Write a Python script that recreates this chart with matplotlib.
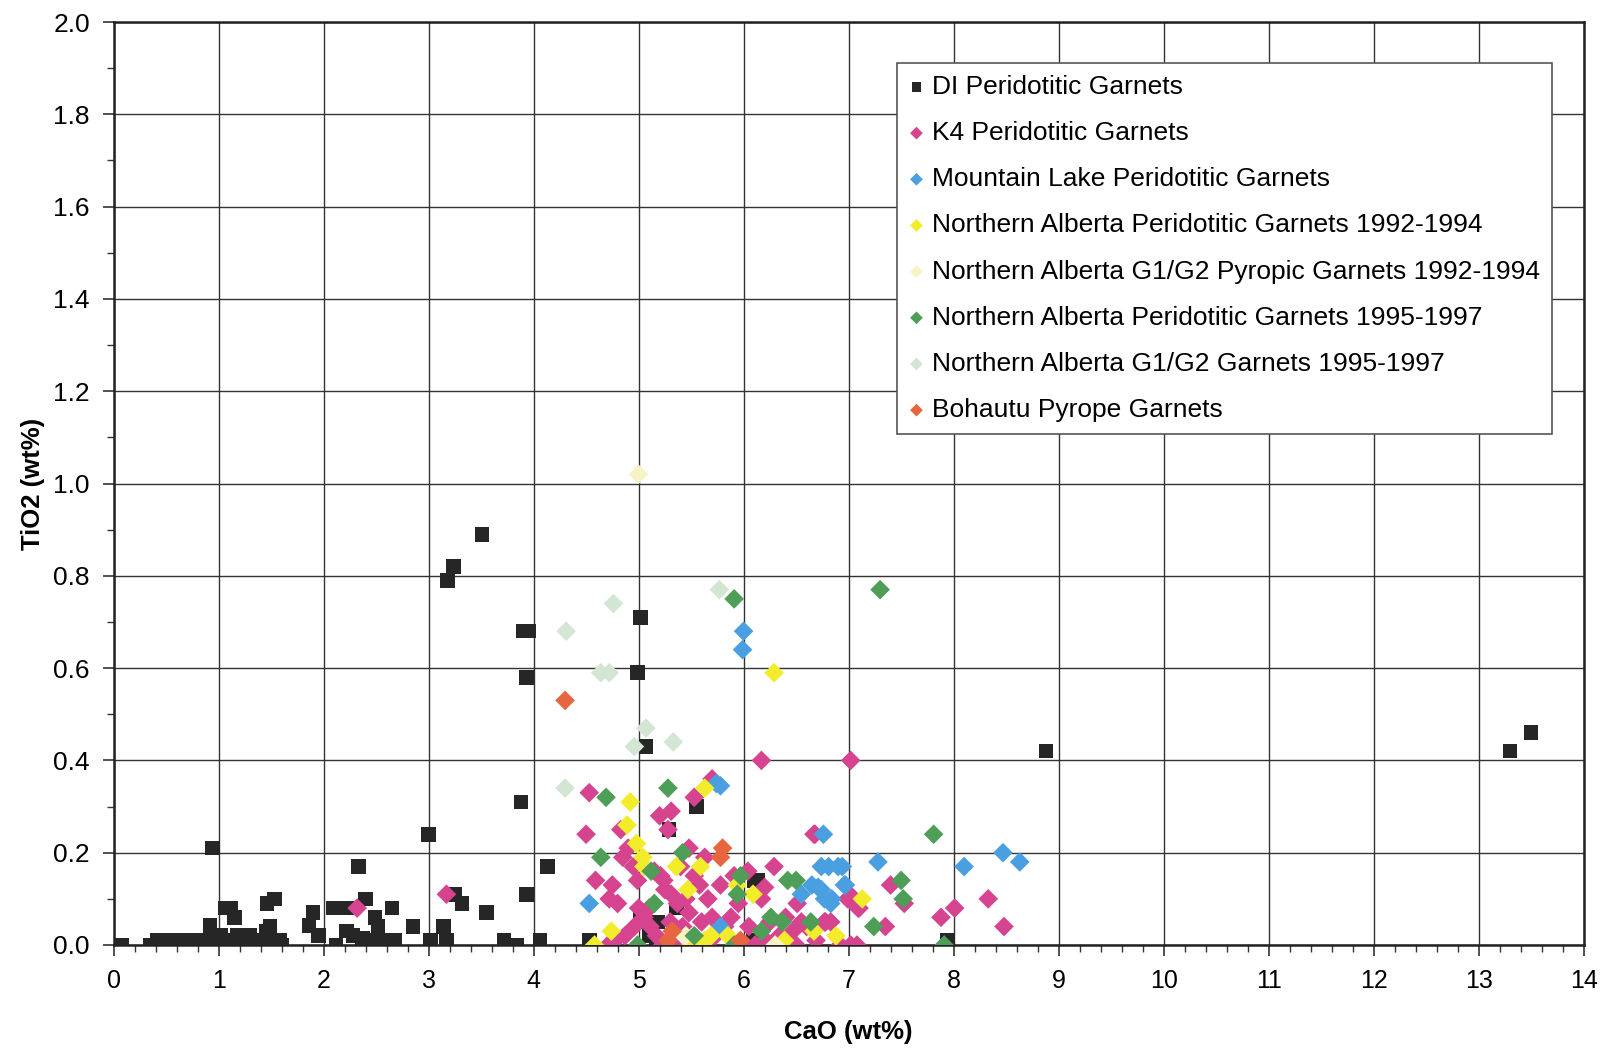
import matplotlib
matplotlib.use("Agg")
import matplotlib.pyplot as plt
from matplotlib.ticker import MultipleLocator, FormatStrFormatter

plt.rcParams['font.family'] = ['Liberation Sans', 'DejaVu Sans']

# DI Peridotitic Garnets (black squares)
di_x = [0.08, 0.35, 0.42, 0.48, 0.55, 0.60, 0.66, 0.72, 0.78, 0.84, 0.90, 0.92, 0.97, 1.02, 1.08,
        1.12, 1.18, 1.24, 1.30, 1.36, 1.42, 1.48, 1.55, 1.60,
        0.94, 0.92, 1.06, 1.12, 1.15, 1.46, 1.53, 1.49, 1.45, 1.58,
        1.86, 1.90, 1.95, 2.09, 2.12, 2.22, 2.22, 2.33, 2.40, 2.37, 2.28, 2.49, 2.52, 2.51, 2.65,
        2.60, 2.68, 2.85, 3.00, 3.02, 3.14, 3.17, 3.25, 3.32, 3.55, 3.72, 3.84, 3.88, 3.93, 4.06, 4.13,
        3.51, 3.24, 3.18, 3.90, 3.95, 3.93, 5.02, 4.99, 5.07,
        5.55, 5.29, 6.10, 6.13, 5.02, 5.05, 5.36, 5.18, 4.53, 7.94, 6.09, 5.17, 5.10,
        8.88, 13.30, 13.50]
di_y = [0.00, 0.00, 0.01, 0.00, 0.01, 0.00, 0.01, 0.01, 0.00, 0.01, 0.00, 0.02, 0.00, 0.02, 0.01,
        0.00, 0.02, 0.01, 0.02, 0.01, 0.00, 0.02, 0.01, 0.00,
        0.21, 0.042, 0.08, 0.08, 0.06, 0.09, 0.10, 0.04, 0.03, 0.01,
        0.042, 0.07, 0.02, 0.08, 0.00, 0.08, 0.03, 0.17, 0.10, 0.015, 0.02, 0.06, 0.04, 0.01, 0.08,
        0.01, 0.01, 0.04, 0.24, 0.01, 0.04, 0.01, 0.11, 0.09, 0.07, 0.01, 0.00, 0.31, 0.11, 0.01, 0.17,
        0.89, 0.82, 0.79, 0.68, 0.68, 0.58, 0.71, 0.59, 0.43,
        0.30, 0.25, 0.14, 0.14, 0.06, 0.05, 0.08, 0.05, 0.01, 0.01, 0.01, 0.00, 0.02,
        0.42, 0.42, 0.46]

# K4 Peridotitic Garnets
k4_x = [2.32, 3.17, 6.17, 7.02, 4.53, 4.50, 5.53, 5.70, 5.20, 5.31, 5.28, 6.67, 4.59, 4.75, 4.72,
        4.83, 4.85, 4.90, 4.99, 5.24, 5.21, 5.48, 5.31, 5.66, 5.78, 5.53, 5.63, 5.91, 6.04, 6.29,
        6.20, 6.17, 6.51, 6.77, 6.83, 6.99, 7.09, 7.40, 7.53, 7.88, 8.01, 8.33, 8.48, 7.03, 7.10,
        7.35, 6.68,
        4.71, 4.78, 4.87, 4.96, 5.05, 5.11, 5.17, 5.23, 5.33, 5.42, 5.48, 5.54, 5.63, 5.73, 5.82,
        5.92, 6.02, 6.11, 6.21, 6.34, 6.47, 6.50, 6.60, 6.69, 6.78, 6.92, 7.02, 7.08, 5.00, 5.10,
        5.30, 5.37, 5.45, 5.60, 5.70, 5.88, 5.95, 6.05, 6.25, 6.40, 6.55, 5.25, 5.15, 4.95, 4.80,
        5.40, 5.58]
k4_y = [0.08, 0.11, 0.40, 0.40, 0.33, 0.24, 0.32, 0.36, 0.28, 0.29, 0.25, 0.24, 0.14, 0.13, 0.10,
        0.25, 0.19, 0.21, 0.14, 0.14, 0.15, 0.21, 0.11, 0.10, 0.13, 0.15, 0.19, 0.15, 0.16, 0.17,
        0.125, 0.10, 0.09, 0.05, 0.05, 0.10, 0.08, 0.13, 0.09, 0.06, 0.08, 0.10, 0.04, 0.105, 0.08,
        0.04, 0.24,
        0.00, 0.01, 0.02, 0.04, 0.06, 0.04, 0.02, 0.00, 0.00, 0.04, 0.07, 0.00, 0.00, 0.02, 0.04,
        0.00, 0.00, 0.00, 0.01, 0.02, 0.03, 0.00, 0.04, 0.01, 0.05, 0.00, 0.00, 0.00, 0.08, 0.08,
        0.05, 0.09, 0.10, 0.05, 0.06, 0.06, 0.09, 0.04, 0.05, 0.06, 0.05, 0.12, 0.16, 0.17, 0.09,
        0.17, 0.13]

# Mountain Lake Peridotitic Garnets
ml_x = [6.00, 5.99, 5.78, 5.74, 4.53, 6.55, 6.74, 6.90, 6.71, 6.77, 6.83, 6.96, 7.28, 8.10, 5.78,
        6.76, 8.47, 8.63, 6.81, 6.94, 6.74, 6.84, 6.97, 6.65]
ml_y = [0.68, 0.64, 0.345, 0.35, 0.09, 0.11, 0.17, 0.17, 0.125, 0.10, 0.09, 0.13, 0.18, 0.17, 0.04,
        0.24, 0.20, 0.18, 0.17, 0.17, 0.12, 0.10, 0.13, 0.13]

# Northern Alberta Peridotitic Garnets 1992-1994
na92_x = [6.29, 4.92, 5.63, 4.89, 4.98, 5.04, 5.36, 5.59, 5.47, 5.94, 6.09, 7.13, 4.74, 4.58, 5.63,
          5.69, 5.85, 6.39, 6.67, 6.88, 5.50, 5.05]
na92_y = [0.59, 0.31, 0.34, 0.26, 0.22, 0.19, 0.17, 0.17, 0.12, 0.13, 0.11, 0.10, 0.03, 0.00, 0.01,
          0.02, 0.02, 0.01, 0.03, 0.02, 0.00, 0.17]

# Northern Alberta G1/G2 Pyropic Garnets 1992-1994
nag92_x = [5.00, 5.45, 6.30]
nag92_y = [1.02, 0.02, 0.00]

# Northern Alberta Peridotitic Garnets 1995-1997
na95_x = [5.91, 7.30, 4.69, 5.28, 4.64, 5.12, 5.42, 5.15, 5.97, 5.94, 6.42, 6.50, 6.26, 6.37, 6.17,
          6.64, 7.24, 7.50, 7.52, 7.81, 7.91, 4.99, 5.53, 5.91]
na95_y = [0.75, 0.77, 0.32, 0.34, 0.19, 0.16, 0.20, 0.09, 0.15, 0.11, 0.14, 0.14, 0.06, 0.05, 0.03,
          0.05, 0.04, 0.14, 0.10, 0.24, 0.00, 0.00, 0.02, 0.00]

# Northern Alberta G1/G2 Garnets 1995-1997
nag95_x = [5.77, 4.76, 4.31, 4.64, 4.72, 5.07, 4.96, 5.33, 4.30]
nag95_y = [0.77, 0.74, 0.68, 0.59, 0.59, 0.47, 0.43, 0.44, 0.34]

# Bohautu Pyrope Garnets
bo_x = [4.30, 5.80, 5.78, 5.28, 5.97, 5.32]
bo_y = [0.53, 0.21, 0.19, 0.01, 0.01, 0.03]

series = [
    (di_x, di_y, "DI Peridotitic Garnets", "#262626", "s"),
    (k4_x, k4_y, "K4 Peridotitic Garnets", "#d6438e", "D"),
    (ml_x, ml_y, "Mountain Lake Peridotitic Garnets", "#4a9fe0", "D"),
    (na92_x, na92_y, "Northern Alberta Peridotitic Garnets 1992-1994", "#f2ec2a", "D"),
    (nag92_x, nag92_y, "Northern Alberta G1/G2 Pyropic Garnets 1992-1994", "#f7f3c4", "D"),
    (na95_x, na95_y, "Northern Alberta Peridotitic Garnets 1995-1997", "#4f9e58", "D"),
    (nag95_x, nag95_y, "Northern Alberta G1/G2 Garnets 1995-1997", "#d3e6d3", "D"),
    (bo_x, bo_y, "Bohautu Pyrope Garnets", "#e8663f", "D"),
]

fig = plt.figure(figsize=(16.04, 10.5), dpi=100)
ax = fig.add_axes([0.0708, 0.1, 0.9165, 0.879])

for x, y, lab, col, mk in series:
    s = 110 if mk == "s" else 100
    ax.scatter(x, y, s=s, marker=mk, color=col, edgecolors='none', label=lab, zorder=3)

ax.set_xlim(0, 14)
ax.set_ylim(0, 2.0)
ax.xaxis.set_major_locator(MultipleLocator(1))
ax.xaxis.set_minor_locator(MultipleLocator(0.2))
ax.yaxis.set_major_locator(MultipleLocator(0.2))
ax.yaxis.set_minor_locator(MultipleLocator(0.1))
ax.yaxis.set_major_formatter(FormatStrFormatter('%.1f'))

ax.grid(True, which='major', color='#333333', linewidth=1.0)
ax.set_axisbelow(True)
for sp in ax.spines.values():
    sp.set_color('#222222')
    sp.set_linewidth(1.8)

ax.tick_params(axis='both', which='major', labelsize=19, length=8, width=1.2,
               color='#333333', pad=9)
ax.tick_params(axis='x', which='major', labelsize=18)
ax.tick_params(axis='both', which='minor', length=5, width=1.0, color='#333333')

ax.set_xlabel("CaO (wt%)", fontsize=18.5, fontweight='bold', labelpad=20)
ax.set_ylabel("TiO2 (wt%)", fontsize=18.5, fontweight='bold', labelpad=6)

leg = ax.legend(loc='upper right', bbox_to_anchor=(0.9786, 0.9556), fontsize=19,
                frameon=True, fancybox=False, edgecolor='#555555', framealpha=1,
                markerscale=0.65, handlelength=0.6, handletextpad=0.3,
                labelspacing=0.84, borderpad=0.45, borderaxespad=0)
leg.get_frame().set_linewidth(1.2)

fig.savefig("out.png", dpi=100, facecolor='white')
